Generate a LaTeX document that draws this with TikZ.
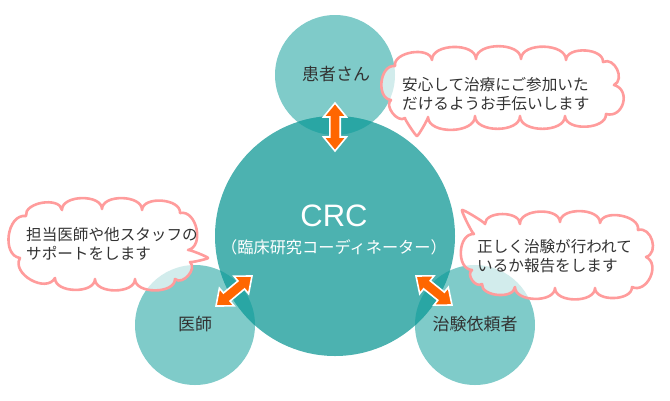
\documentclass[tikz,border=0pt]{standalone}
\usepackage{fontspec}
\setmainfont{Liberation Sans}
\newfontfamily\jp{Noto Sans CJK JP}
\usetikzlibrary{calc}
\definecolor{smallc}{HTML}{7FCBC9}
\definecolor{bigc}{HTML}{4CB2B0}
\definecolor{overc}{HTML}{29A6A4}
\definecolor{arrowc}{HTML}{FF6600}
\definecolor{pinkc}{HTML}{FF9C9C}
\definecolor{txt}{HTML}{333333}

\tikzset{
  smallcirc/.style={circle, fill=smallc, minimum size=120, inner sep=0, outer sep=0},
  bigcirc/.style={circle, fill=bigc, minimum size=240, inner sep=0, outer sep=0},
  bubble/.style={fill=white, fill opacity=0.65, draw=pinkc, line width=2.6pt, line join=round},
  bubbletext/.style={font=\jp\fontsize{15.6}{19}\selectfont, text=txt, align=left, inner sep=0},
  circlabel/.style={font=\jp\fontsize{17}{17}\selectfont, text=txt, inner sep=0},
  arrowshape/.style={fill=arrowc, draw=white, line width=1.6pt, line join=miter},
  crcfont/.style={font=\fontsize{31}{31}\selectfont, inner sep=0},
  subfont/.style={font=\jp\fontsize{16.2}{16.2}\selectfont, inner sep=0},
}

\newcommand\cloudshape[3]{%
  \path[bubble] (#1,#2) \foreach \x/\y/\kk [remember=\x as \lx (initially #1), remember=\y as \ly (initially #2)] in {#3} { .. controls ($(\lx,\ly)!\kk!90:(\x,\y)$) and ($(\x,\y)!\kk!-90:(\lx,\ly)$) .. (\x,\y) } -- cycle;
}

\newcommand\dblarrow[2]{%
  \coordinate (h1) at ($(#1)!14pt!(#2)$);
  \coordinate (h2) at ($(#2)!14pt!(#1)$);
  \path[arrowshape] (#1) -- ($(h1)!11.5pt!90:(#2)$) -- ($(h1)!5.2pt!90:(#2)$) -- ($(h2)!5.2pt!-90:(#1)$) -- ($(h2)!11.5pt!-90:(#1)$) -- (#2) -- ($(h2)!11.5pt!90:(#1)$) -- ($(h2)!5.2pt!90:(#1)$) -- ($(h1)!5.2pt!-90:(#2)$) -- ($(h1)!11.5pt!-90:(#2)$) -- cycle;
}

\begin{document}
\begin{tikzpicture}[x=1pt,y=-1pt]
\useasboundingbox (0,0) rectangle (670,400);

% circles
\node[smallcirc] (pat) at (335,75) {};
\node[smallcirc] (doc) at (195,325) {};
\node[smallcirc] (spn) at (475,325) {};
\node[bigcirc] (crc) at (335,236) {};

% overlaps
\begin{scope}
  \clip (crc.center) circle (120);
  \fill[overc] (pat.center) circle (60);
  \fill[overc] (doc.center) circle (60);
  \fill[overc] (spn.center) circle (60);
\end{scope}

% speech bubbles
\cloudshape{391}{100}{395/66/0.45, 432/60/0.38, 476/59/0.38, 521/59/0.38, 566/60/0.38, 603/62/0.38, 614/85/0.5, 606/114/0.6, 565/116/0.38, 520/116/0.38, 475/116/0.38, 428/117/0.38, 417/136/0.05, 405/118/0.05, 391/100/0.4}
\cloudshape{20}{258}{26/216/0.45, 62/210/0.38, 102/209/0.38, 142/210/0.38, 180/213/0.38, 188/250/0.45, 208/258/0.05, 190/262/0.05, 175/279/0.45, 135/279/0.38, 95/279/0.38, 55/278/0.38, 20/258/0.45}
\cloudshape{472}{270}{474/234/0.45, 462/210/0.05, 485/224/0.05, 520/224/0.38, 560/222/0.38, 600/223/0.38, 638/230/0.38, 646/257/0.5, 632/287/0.5, 595/288/0.38, 555/288/0.38, 515/287/0.38, 482/284/0.38, 472/270/0.45}

\node[bubbletext, anchor=west] (t1) at (402,94.5) {安心して治療にご参加いた\\だけるようお手伝いします};
\node[bubbletext, anchor=west] (t2) at (26,244) {担当医師や他スタッフの\\サポートをします};
\node[bubbletext, anchor=west] (t3) at (477,256.5) {正しく治験が行われて\\いるか報告をします};

% circle labels
\node[circlabel] (lpat) at (336,74) {患者さん};
\node[circlabel] (ldoc) at (195,324) {医師};
\node[circlabel] (lspn) at (475,324) {治験依頼者};

% CRC label
\node[crcfont, text=white] (crct) at (334,216) {CRC};
\node[subfont, text=white] (crcs) at (334,247) {（臨床研究コーディネーター）};

% arrows
\coordinate (pa1) at (335,103);
\coordinate (pa2) at (335,151);
\coordinate (la1) at (216,306);
\coordinate (la2) at (252,276);
\coordinate (ra1) at (416,276);
\coordinate (ra2) at (452,305);
\dblarrow{pa1}{pa2}
\dblarrow{la1}{la2}
\dblarrow{ra1}{ra2}
\end{tikzpicture}
\end{document}
